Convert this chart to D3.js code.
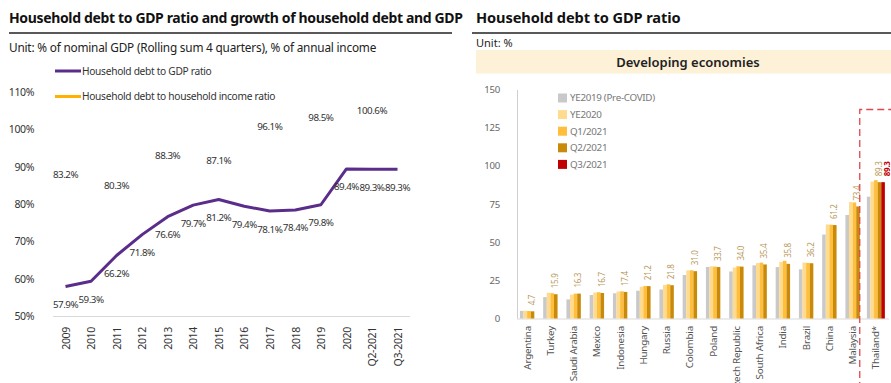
<!DOCTYPE html>
<html><head><meta charset="utf-8">
<script src="https://cdn.jsdelivr.net/npm/d3@7"></script>
<style>
body{margin:0;background:#fff;}
svg{display:block;font-family:"Noto Sans",sans-serif;}
</style></head>
<body><svg id="c" width="891" height="383"></svg>
<script>
// ---- Left chart data ----
const years = ["2009","2010","2011","2012","2013","2014","2015","2016","2017","2018","2019","2020","Q2-2021","Q3-2021"];
const debtToGDP = [57.9,59.3,66.2,71.8,76.6,79.7,81.2,79.4,78.1,78.4,79.8,89.4,89.3,89.3];
const debtToIncome = [83.2,null,80.3,null,88.3,null,87.1,null,96.1,null,98.5,null,100.6,null];
const leftTicks = [50,60,70,80,90,100,110];

// ---- Right chart data ----
const countries = ["Argentina","Turkey","Saudi Arabia","Mexico","Indonesia","Hungary","Russia","Colombia","Poland","Czech Republic","South Africa","India","Brazil","China","Malaysia","Thailand*"];
const seriesNames = ["YE2019 (Pre-COVID)","YE2020","Q1/2021","Q2/2021","Q3/2021"];
const ye2019 = [5.0,14.0,12.5,15.4,16.5,18.2,19.0,28.5,33.8,30.8,34.8,33.7,32.2,55.0,67.8,79.8];
const ye2020 = [5.1,16.9,15.6,17.0,17.7,20.8,22.0,31.5,34.2,33.4,36.3,37.0,36.6,61.6,76.3,89.7];
const q1_2021 = [4.9,16.6,16.3,17.2,17.8,21.3,22.4,31.6,34.0,34.2,36.6,37.8,36.4,61.4,76.0,90.6];
const q2_2021 = [4.7,15.9,16.3,16.7,17.4,21.2,21.8,31.0,33.7,34.0,35.4,35.8,36.2,61.2,73.4,89.3];
const q3_2021 = [null,null,null,null,null,null,null,null,null,null,null,null,null,null,null,89.3];
const rightTicks = [0,25,50,75,100,125,150];
const seriesColors = ["#c9c9c9","#ffdb8f","#ffbe3b","#c98a0a","#c00000"];

const svg = d3.select("#c");

// ================= LEFT CHART =================
svg.append("text").attr("x",9).attr("y",23).attr("font-size",14).attr("letter-spacing",-0.35).attr("font-weight","bold").attr("fill","#111")
  .text("Household debt to GDP ratio and growth of household debt and GDP");
svg.append("line").attr("x1",9).attr("x2",452).attr("y1",33).attr("y2",33).attr("stroke","#222").attr("stroke-width",1.6);
svg.append("text").attr("x",9).attr("y",52).attr("font-size",11.8).attr("letter-spacing",-0.2).attr("fill","#222")
  .text("Unit: % of nominal GDP (Rolling sum 4 quarters), % of annual income");

const xL = d3.scalePoint().domain(years).range([65.5,397.5]);
const yL = d3.scaleLinear().domain([50,110]).range([316,92]);

const gYL = svg.append("g").attr("transform","translate(37,0)")
  .call(d3.axisLeft(yL).tickValues(leftTicks).tickSize(0).tickFormat(d=>d+"%"));
gYL.select(".domain").remove();
gYL.selectAll("text").attr("font-size",10.5).attr("letter-spacing",-0.4).attr("fill","#333").attr("font-family","Noto Sans");

svg.append("line").attr("x1",53).attr("x2",410).attr("y1",316.5).attr("y2",316.5).attr("stroke","#d9d9d9").attr("stroke-width",1.2);

const gXL = svg.append("g").attr("transform","translate(0,316)")
  .call(d3.axisBottom(xL).tickSize(0));
gXL.select(".domain").remove();
gXL.selectAll("text").attr("font-size",10.5).attr("letter-spacing",-0.3).attr("fill","#333").attr("font-family","Noto Sans")
  .attr("transform","rotate(-90)").attr("text-anchor","end").attr("dy","0.35em").attr("x",-11).attr("y",0);

// purple line
const line = d3.line().x((d,i)=>xL(years[i])).y(d=>yL(d));
svg.append("path").datum(debtToGDP).attr("d",line).attr("fill","none").attr("stroke","#5a2d8a").attr("stroke-width",3).attr("stroke-linejoin","round");

svg.append("g").selectAll("text").data(debtToGDP).join("text")
  .attr("x",(d,i)=>xL(years[i])).attr("y",d=>yL(d)+18).attr("dy","0.35em")
  .attr("text-anchor","middle").attr("font-size",9.8).attr("letter-spacing",-0.5).attr("fill","#333").text(d=>d.toFixed(1)+"%");

svg.append("g").selectAll("text").data(debtToIncome.map((v,i)=>({v,i})).filter(d=>d.v!=null)).join("text")
  .attr("x",d=>xL(years[d.i])).attr("y",d=>yL(d.v)-17).attr("dy","0.35em")
  .attr("text-anchor","middle").attr("font-size",9.8).attr("letter-spacing",-0.5).attr("fill","#333").text(d=>d.v.toFixed(1)+"%");

// legend left
const legL = [{name:"Household debt to GDP ratio",c:"#5a2d8a",y:71},{name:"Household debt to household income ratio",c:"#ffb000",y:96.5}];
legL.forEach(l=>{
  svg.append("line").attr("x1",55).attr("x2",81).attr("y1",l.y).attr("y2",l.y).attr("stroke",l.c).attr("stroke-width",3);
  svg.append("text").attr("x",82).attr("y",l.y).attr("dy","0.35em").attr("font-size",10.2).attr("letter-spacing",-0.3).attr("fill","#333").text(l.name);
});

// ================= RIGHT CHART =================
svg.append("text").attr("x",476).attr("y",23).attr("font-size",14.6).attr("letter-spacing",-0.1).attr("font-weight","bold").attr("fill","#111")
  .text("Household debt to GDP ratio");
svg.append("line").attr("x1",472).attr("x2",891).attr("y1",33).attr("y2",33).attr("stroke","#222").attr("stroke-width",1.6);
svg.append("text").attr("x",476).attr("y",47).attr("font-size",11).attr("fill","#222").text("Unit: %");
svg.append("rect").attr("x",476).attr("y",50).attr("width",415).attr("height",23.5).attr("fill","#fdf1d7");
svg.append("text").attr("x",688).attr("y",62).attr("dy","0.35em").attr("text-anchor","middle").attr("font-size",13).attr("font-weight",600).attr("fill","#222").text("Developing economies");

const xR = d3.scaleBand().domain(countries).range([515.5,887.5]);
const yR = d3.scaleLinear().domain([0,150]).range([318.5,89.5]);

const gYR = svg.append("g").attr("transform","translate(503,0)")
  .call(d3.axisLeft(yR).tickValues(rightTicks).tickSize(0));
gYR.select(".domain").remove();
gYR.selectAll("text").attr("font-size",9.6).attr("letter-spacing",-0.2).attr("fill","#666").attr("font-family","Noto Sans");

svg.append("line").attr("x1",517.5).attr("x2",517.5).attr("y1",90).attr("y2",318.5).attr("stroke","#cfcfcf").attr("stroke-width",1);
svg.append("line").attr("x1",517).attr("x2",889).attr("y1",319).attr("y2",319).attr("stroke","#d9d9d9").attr("stroke-width",1.2);

const allSeries = [ye2019,ye2020,q1_2021,q2_2021,q3_2021];
const bw = 3.6;
const barData = [];
countries.forEach((c,ci)=>{
  const present = allSeries.map((s,si)=>({si,v:s[ci]})).filter(d=>d.v!=null);
  const k = present.length;
  present.forEach((d,j)=>{
    barData.push({c,si:d.si,v:d.v,cx:xR(c)+xR.bandwidth()/2+(j-(k-1)/2)*bw});
  });
});
svg.append("g").selectAll("rect").data(barData).join("rect")
  .attr("x",d=>d.cx-bw/2).attr("width",bw)
  .attr("y",d=>yR(d.v)).attr("height",d=>yR(0)-yR(d.v))
  .attr("fill",d=>seriesColors[d.si]);

// value labels (Q2 and Q3)
barData.filter(d=>d.si===3).forEach(d=>{
  svg.append("text").attr("transform",`translate(${d.cx-0.5},${yR(d.v)-6}) rotate(-90)`)
    .attr("dy","0.35em").attr("font-size",8).attr("letter-spacing",-0.3).attr("fill","#b8985a").text(d.v.toFixed(1));
});
barData.filter(d=>d.si===4).forEach(d=>{
  svg.append("text").attr("transform",`translate(${d.cx+3.8},${yR(d.v)-6}) rotate(-90)`)
    .attr("dy","0.35em").attr("font-size",8).attr("letter-spacing",-0.3).attr("font-weight","bold").attr("fill","#c00000").text(d.v.toFixed(1));
});

// x labels
const gXR = svg.append("g").attr("transform","translate(0,319)")
  .call(d3.axisBottom(xR).tickSize(0));
gXR.select(".domain").remove();
gXR.selectAll("text").attr("font-size",9.8).attr("letter-spacing",-0.2).attr("fill","#555").attr("font-family","Noto Sans")
  .attr("transform","rotate(-90)").attr("text-anchor","end").attr("dy","0.35em").attr("x",-7).attr("y",0);

// legend right
seriesNames.forEach((n,i)=>{
  const y = 98 + i*16.6;
  svg.append("rect").attr("x",558).attr("y",y-4.5).attr("width",9).attr("height",9).attr("fill",seriesColors[i]);
  svg.append("text").attr("x",570).attr("y",y).attr("dy","0.35em").attr("font-size",9.8).attr("letter-spacing",-0.3).attr("fill","#777").text(n);
});

// dashed highlight box around Thailand
svg.append("path").attr("d",`M${xR("Thailand*")-4.5},400 V109.5 H895`)
  .attr("fill","none").attr("stroke","#e0474c").attr("stroke-width",1.3).attr("stroke-dasharray","7,4");
</script></body></html>
